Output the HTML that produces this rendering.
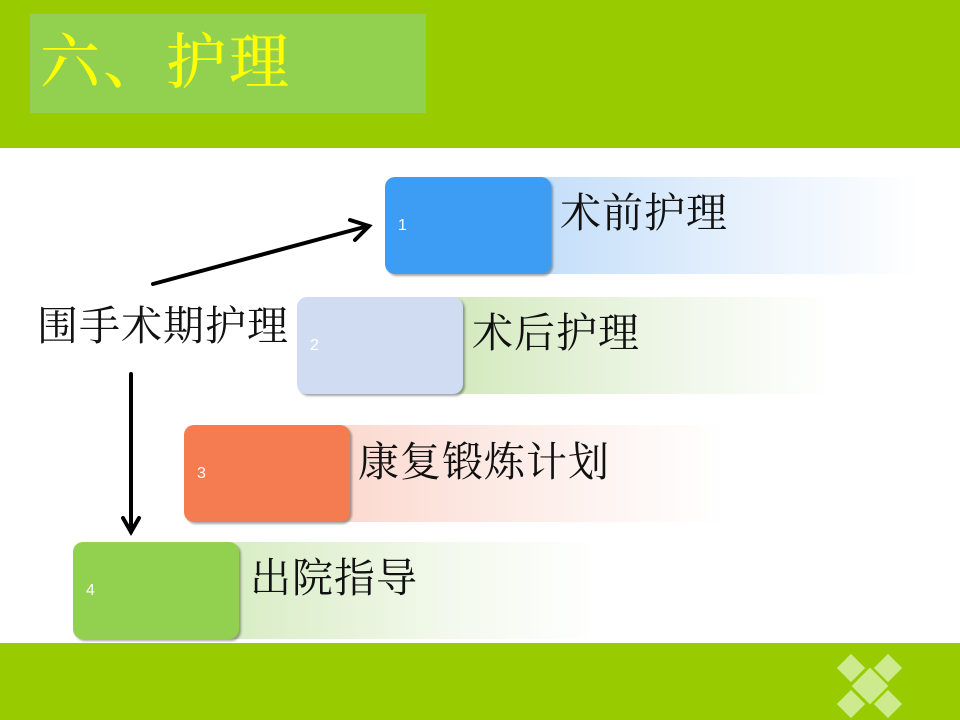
<!DOCTYPE html>
<html><head><meta charset="utf-8"><style>
body{margin:0;width:960px;height:720px;position:relative;background:#fff;overflow:hidden;font-family:"Liberation Serif","Noto Serif CJK SC",serif;}
.abs{position:absolute;}
.band{background:#99cc00;left:0;width:960px;}
.box{position:absolute;width:166px;height:97px;border-radius:10px;box-shadow:2px 2px 2px rgba(0,0,0,0.35);}
.num{position:absolute;left:13px;top:40px;color:#fff;font-family:"Liberation Sans",sans-serif;font-size:16px;}
.grad{position:absolute;height:97px;}
.t{position:absolute;font-size:41px;letter-spacing:1px;color:#111;line-height:1;white-space:nowrap;}
</style></head><body>
<div class="abs band" style="top:0;height:148px"></div>
<div class="abs" style="left:30px;top:14px;width:396px;height:99px;background:#92d050"></div>
<div class="abs" style="left:40px;top:33px;font-size:60px;color:#ffff00;line-height:1;letter-spacing:3px;white-space:nowrap;font-weight:500">六、护理</div>
<div class="abs band" style="top:643px;height:77px"></div>
<svg class="abs" style="left:0;top:0" width="960" height="720">
<g fill="#cdeb8e">
<rect x="-10" y="-10" width="20" height="20" transform="translate(851,668) rotate(45)"/>
<rect x="-10" y="-10" width="20" height="20" transform="translate(888,668) rotate(45)"/>
<rect x="-10" y="-10" width="20" height="20" transform="translate(851,704) rotate(45)"/>
<rect x="-10" y="-10" width="20" height="20" transform="translate(888,704) rotate(45)"/>
<rect x="-13" y="-13" width="26" height="26" transform="translate(870,686) rotate(45)"/>
</g>
</svg>
<div class="grad" style="left:540px;top:177px;width:380px;background:linear-gradient(to right,#c4def9,rgba(220,235,252,0.6) 60%,rgba(255,255,255,0))"></div>
<div class="box" style="left:385px;top:177px;background:#3d9df5"><span class="num">1</span></div>
<div class="t" style="left:560px;top:193px">术前护理</div>
<div class="grad" style="left:452px;top:297px;width:380px;background:linear-gradient(to right,#d3e9bd,rgba(230,242,220,0.6) 60%,rgba(255,255,255,0))"></div>
<div class="box" style="left:297px;top:297px;background:#cfdcf2"><span class="num">2</span></div>
<div class="t" style="left:472px;top:313px">术后护理</div>
<div class="grad" style="left:338px;top:425px;width:385px;background:linear-gradient(to right,#fbd9cf,rgba(252,232,226,0.6) 60%,rgba(255,255,255,0))"></div>
<div class="box" style="left:184px;top:425px;background:#f47c50"><span class="num">3</span></div>
<div class="t" style="left:358px;top:442px">康复锻炼计划</div>
<div class="grad" style="left:228px;top:542px;width:372px;background:linear-gradient(to right,#d7ecc3,rgba(235,245,225,0.6) 60%,rgba(255,255,255,0))"></div>
<div class="box" style="left:73px;top:542px;background:#92d050"><span class="num">4</span></div>
<div class="t" style="left:250px;top:558px">出院指导</div>
<div class="t" style="left:37px;top:306px">围手术期护理</div>
<svg class="abs" style="left:0;top:0" width="960" height="720">
<g stroke="#000" stroke-width="4" fill="none" stroke-linecap="round">
<line x1="153" y1="284" x2="368" y2="226"/>
<polyline points="350,220 369,226 355,240"/>
<line x1="131" y1="374" x2="131" y2="532"/>
<polyline points="123,518 131,532 139,518"/>
</g>
</svg>
</body></html>
